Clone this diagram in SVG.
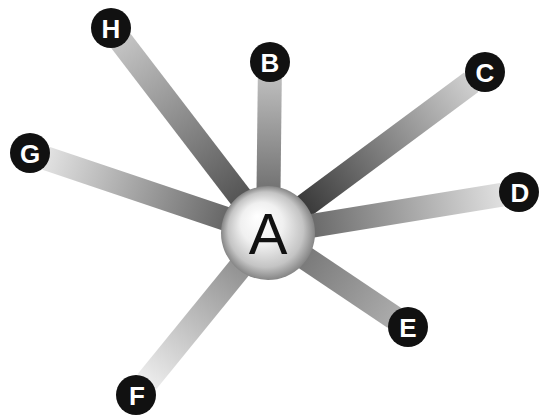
<svg xmlns="http://www.w3.org/2000/svg" width="546" height="419" viewBox="0 0 546 419">
<style>
.bar{stroke:none}
.dot{fill:#111}
.lbl{font-family:"Liberation Sans",Arial,sans-serif;font-weight:bold;font-size:26px;fill:#fff;text-anchor:middle}
.big{font-family:"Liberation Sans",Arial,sans-serif;font-size:58px;fill:#111;text-anchor:middle}
</style>
<defs>
<linearGradient id="gH" x1="0" y1="0" x2="1" y2="0"><stop offset="0" stop-color="#3c3c3c"/><stop offset="1" stop-color="#c4c4c4"/></linearGradient>
<linearGradient id="gB" x1="0" y1="0" x2="1" y2="0"><stop offset="0" stop-color="#555"/><stop offset="1" stop-color="#bdbdbd"/></linearGradient>
<linearGradient id="gC" x1="0" y1="0" x2="1" y2="0"><stop offset="0" stop-color="#1a1a1a"/><stop offset="1" stop-color="#cfcfcf"/></linearGradient>
<linearGradient id="gG" x1="0" y1="0" x2="1" y2="0"><stop offset="0" stop-color="#4a4a4a"/><stop offset="1" stop-color="#e2e2e2"/></linearGradient>
<linearGradient id="gD" x1="0" y1="0" x2="1" y2="0"><stop offset="0" stop-color="#4f4f4f"/><stop offset="1" stop-color="#e0e0e0"/></linearGradient>
<linearGradient id="gE" x1="0" y1="0" x2="1" y2="0"><stop offset="0" stop-color="#666"/><stop offset="1" stop-color="#ababab"/></linearGradient>
<linearGradient id="gF" x1="0" y1="0" x2="1" y2="0"><stop offset="0" stop-color="#777"/><stop offset="1" stop-color="#ececec"/></linearGradient>
<radialGradient id="ball" cx="0.5" cy="0.5" r="0.5" fx="0.38" fy="0.32">
<stop offset="0" stop-color="#ffffff"/><stop offset="0.45" stop-color="#f0f0f0"/><stop offset="0.8" stop-color="#c4c4c4"/><stop offset="1" stop-color="#858585"/>
</radialGradient>
</defs>
<g id="connectors">
<rect class="bar" x="0" y="-12" width="242" height="24" fill="url(#gH)" transform="translate(268,233) rotate(-127.45)"/>
<rect class="bar" x="0" y="-12" width="155" height="24" fill="url(#gB)" transform="translate(268,233) rotate(-89.33)"/>
<rect class="bar" x="0" y="-12" width="253" height="24" fill="url(#gC)" transform="translate(268,233) rotate(-36.57)"/>
<rect class="bar" x="0" y="-12" width="234" height="24" fill="url(#gG)" transform="translate(268,233) rotate(-161.42)"/>
<rect class="bar" x="0" y="-12" width="237" height="24" fill="url(#gD)" transform="translate(268,233) rotate(-9.28)"/>
<rect class="bar" x="0" y="-12" width="152" height="24" fill="url(#gE)" transform="translate(268,233) rotate(33.88)"/>
<rect class="bar" x="0" y="-12" width="192" height="24" fill="url(#gF)" transform="translate(268,233) rotate(129.17)"/>
</g>
<g id="node-A">
<circle cx="268" cy="233" r="47" fill="url(#ball)"/>
<text class="big" x="268" y="254">A</text>
</g>
<g id="node-H"><circle class="dot" cx="111" cy="28" r="20"/><text class="lbl" x="111" y="37.5">H</text></g>
<g id="node-B"><circle class="dot" cx="270" cy="62" r="20"/><text class="lbl" x="270" y="71.5">B</text></g>
<g id="node-C"><circle class="dot" cx="485" cy="72" r="20"/><text class="lbl" x="485" y="81.5">C</text></g>
<g id="node-G"><circle class="dot" cx="30" cy="153" r="20"/><text class="lbl" x="30" y="162.5">G</text></g>
<g id="node-D"><circle class="dot" cx="519" cy="192" r="20"/><text class="lbl" x="520" y="201.5">D</text></g>
<g id="node-E"><circle class="dot" cx="408" cy="327" r="20"/><text class="lbl" x="408" y="336.5">E</text></g>
<g id="node-F"><circle class="dot" cx="136" cy="395" r="20"/><text class="lbl" x="137" y="404.5">F</text></g>
</svg>
